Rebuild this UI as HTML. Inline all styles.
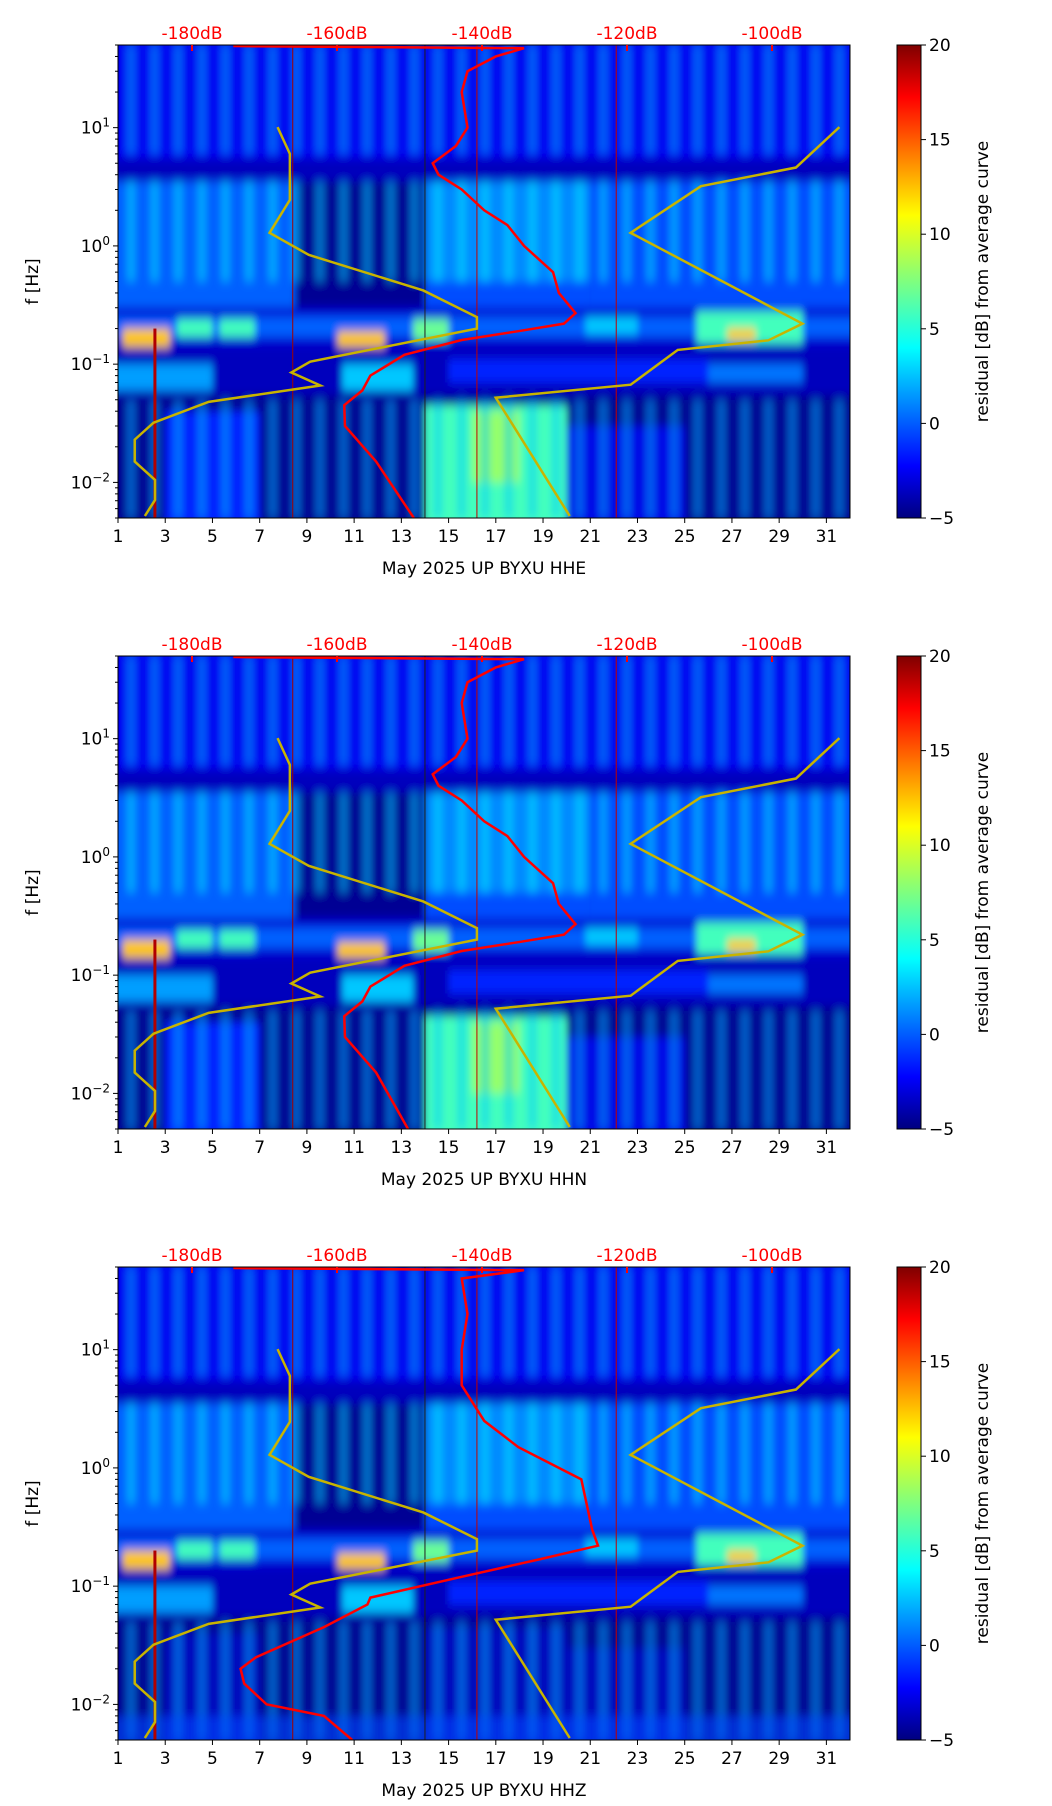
<!DOCTYPE html>
<html><head><meta charset="utf-8"><style>
html,body{margin:0;padding:0;background:#fff}
svg{display:block;font-family:"DejaVu Sans","Liberation Sans",sans-serif}
</style></head><body>
<svg id="fig" width="1052" height="1806" viewBox="0 0 1052 1806" xmlns="http://www.w3.org/2000/svg">
<defs>
<linearGradient id="jet" x1="0" y1="1" x2="0" y2="0">
<stop offset="0" stop-color="#00007f"/><stop offset="0.11" stop-color="#0000ff"/><stop offset="0.36" stop-color="#00ffff"/><stop offset="0.5" stop-color="#7fff7f"/><stop offset="0.64" stop-color="#ffff00"/><stop offset="0.89" stop-color="#ff0000"/><stop offset="1" stop-color="#7f0000"/>
</linearGradient>
<filter id="blur" x="0" y="0" width="1" height="1"><feGaussianBlur stdDeviation="3.5 5"/></filter>
</defs>
</svg>
<script>
// ---- data ----
const channels = ["HHE","HHN","HHZ"];
const dayTicks = [1,3,5,7,9,11,13,15,17,19,21,23,25,27,29,31];
const freqTicks = [10,1,0.1,0.01];
const freqTickLabels = ["1","0","\u22121","\u22122"];
const dbTicks = [-180,-160,-140,-120,-100];
const cbarTicks = [-5,0,5,10,15,20];
// red curve: [dB, freq] per channel
const redDB = [
 [-174.3,-134.2,-138.1,-142,-142.8,-142,-143.6,-146.8,-146,-142.8,-139.7,-136.5,-134.2,-130.2,-129.4,-127.1,-128.7,-135,-142.8,-150.7,-155.4,-156.5,-159,-158.9,-154.6,-149.4],
 [-174.3,-134.2,-138.1,-142,-142.8,-142,-143.6,-146.8,-146,-142.8,-139.7,-136.5,-134.2,-130.2,-129.4,-127.1,-128.7,-135,-142.8,-150.7,-155.4,-156.5,-159,-158.9,-154.6,-150.2],
 [-174.3,-134.2,-142.8,-142,-142.8,-142.8,-139.7,-135,-126.3,-124.8,-124,-131.8,-142.8,-155.4,-155.8,-161.8,-171.2,-173.3,-172.8,-169.7,-161.8,-157.9]
];
const redF1 = [49,47,40,30,20,10,7,5,4,3,2,1.5,1.0,0.6,0.4,0.27,0.22,0.19,0.16,0.12,0.08,0.06,0.045,0.03,0.015,0.005];
const redF3 = [49,47,40,20,10,5,2.5,1.5,0.8,0.3,0.22,0.17,0.12,0.08,0.07,0.045,0.025,0.02,0.015,0.01,0.008,0.005];
// noise model curves
const lowDB = [-168.2,-166.5,-166.5,-169.3,-163.9,-148.1,-140.7,-140.7,-163.7,-166.3,-162.3,-177.7,-185.3,-187.9,-187.9,-185.1,-185.1,-186.5];
const lowF = [10.1,6.0,2.45,1.29,0.84,0.42,0.25,0.2,0.105,0.085,0.066,0.048,0.032,0.023,0.015,0.0105,0.0071,0.0052];
const highDB = [-90.7,-96.7,-109.8,-119.5,-95.8,-100.5,-113,-119.5,-138.1,-127.9];
const highF = [10.1,4.6,3.2,1.29,0.22,0.159,0.132,0.067,0.052,0.0052];
// heatmap regions: [day0, day1, f0, f1, residual dB]
const regions = [
 [1,32,5,50,-2.2],[1,32,3.5,5.5,-3.5],
 [1,8.5,0.3,3.5,0.5],[8.5,14,0.3,3.5,-4.5],[14,21,0.5,3.5,1.5],[14,21,0.25,0.5,0],[21,32,0.3,3.5,0],
 [1,32,0.14,0.3,-3],[1,32,0.17,0.25,0.5],[1.2,3.2,0.11,0.2,12],[3.5,5,0.17,0.24,6],[5.3,6.8,0.17,0.24,6],
 [10.3,12.3,0.12,0.19,12],[13.5,15,0.16,0.24,7],[20.8,23,0.18,0.25,3],[25.5,30,0.15,0.28,6],[26.8,28,0.16,0.2,12],
 [1,32,0.055,0.14,-3.5],[1,5,0.06,0.1,2],[10.5,13.5,0.06,0.1,3],[26,30,0.07,0.1,1],[15,26,0.07,0.11,-1],
 [1,32,0.005,0.055,-4.5],[14,20,0.005,0.045,6],[16,18,0.01,0.04,8],[3,7,0.005,0.04,-1],[20,25,0.005,0.03,-2.5]
];
// daily stripes: band [f0, f1, value]
const stripeBands = [[6,50,3],[0.5,3.5,4],[0.005,0.05,3]];
const stripeDays = [1,2,3,4,5,6,7,8,9,10,11,12,13,14,15,16,17,18,19,20,21,22,23,24,25,26,27,28,29,30,31];
const vlineDays = [8.4,14,16.2,22.1];
const vlineColors = ["#a00000","#202020","#c00000","#c00000"];

// ---- layout ----
const NS="http://www.w3.org/2000/svg";
const svg=document.getElementById('fig');
const L=118,R=850,PH=473,CB0=897,CB1=921;
function jet(v){const t=Math.max(0,Math.min(1,(v+5)/25));const c=x=>Math.round(255*Math.max(0,Math.min(1,1.5-Math.abs(4*t-x))));return `rgb(${c(3)},${c(2)},${c(1)})`;}
function mk(tag,attrs,parent){const e=document.createElementNS(NS,tag);for(const k in attrs)e.setAttribute(k,attrs[k]);(parent||svg).appendChild(e);return e;}

channels.forEach((ch,pi)=>{
 const T=45+pi*611,B=T+PH;
 const xd=d=>L+(d-1)*(R-L)/31;
 const yf=f=>T+(Math.log10(50)-Math.log10(f))/4*PH;
 const xdb=db=>192+(db+180)*145/20;
 const g=mk('g',{});
 
 
 const cp=mk('clipPath',{id:'cp'+pi},g);mk('rect',{x:L,y:T,width:R-L,height:PH},cp);
 const hmc=mk('g',{'clip-path':`url(#cp${pi})`},g);
 const hm=mk('g',{filter:'url(#blur)'},hmc);
 
 
 mk('rect',{x:L-20,y:T-20,width:R-L+40,height:PH+40,fill:jet(-4)},hm);
 regions.forEach(r=>{
  let v=r[4];
  if(pi===2 && r[3]<=0.055 && r[2]<0.04) v=Math.min(v,-3.5);
  const d0=r[0]<=1?0:r[0], d1=r[1]>=32?33:r[1];
  const f1=r[3]>=50?80:r[3], f0=r[2]<=0.005?0.003:r[2];
  const e=mk('rect',{x:xd(d0),y:yf(f1),width:xd(d1)-xd(d0),height:yf(f0)-yf(f1),fill:jet(v)},hm);
  
  
 });
 stripeDays.forEach(d=>{stripeBands.forEach(b=>{
  const e=mk('rect',{x:xd(d+0.35),y:yf(b[1]),width:xd(1.4)-xd(1),height:yf(b[0])-yf(b[1]),fill:jet(b[2]),opacity:0.45},hm);
  
  
 });});
 if(pi===2){const e=mk('rect',{x:L-20,y:yf(0.008),width:R-L+40,height:yf(0.004)-yf(0.008),fill:jet(0),opacity:0.6},hm);}
 mk('rect',{x:xd(2.5),y:yf(0.2),width:3,height:B-yf(0.2),fill:'#b00000'},hmc);
 vlineDays.forEach((d,i)=>{const e=mk('line',{x1:xd(d),x2:xd(d),y1:T,y2:B,stroke:vlineColors[i],'stroke-width':1},hmc);});
 [[lowDB,lowF,'low-noise-model'],[highDB,highF,'high-noise-model']].forEach(([dbs,fs,n])=>{
  const p=mk('polyline',{points:dbs.map((d,i)=>xdb(d)+','+yf(fs[i])).join(' '),fill:'none',stroke:'#c8b400','stroke-width':2.5},hmc);
  
  
 });
 const rdb=redDB[pi], rf=pi===2?redF3:redF1;
 const rp=mk('polyline',{points:rdb.map((d,i)=>xdb(d)+','+yf(rf[i])).join(' '),fill:'none',stroke:'#ff0000','stroke-width':2.5},hmc);
 
 
 mk('rect',{x:L,y:T,width:R-L,height:PH,fill:'none',stroke:'#000','stroke-width':1},g);
 dayTicks.forEach(d=>{mk('line',{x1:xd(d),x2:xd(d),y1:B,y2:B+5,stroke:'#000'},g);
  const t=mk('text',{x:xd(d),y:B+24,'text-anchor':'middle','font-size':17},g);t.textContent=d;
  });
 const xl=mk('text',{x:484,y:B+56,'text-anchor':'middle','font-size':17},g);xl.textContent='May 2025 UP BYXU  '+ch;
 
 freqTicks.forEach((f,i)=>{mk('line',{x1:L-5,x2:L,y1:yf(f),y2:yf(f),stroke:'#000'},g);
  const t=mk('text',{x:L-8,y:yf(f)+6,'text-anchor':'end','font-size':17},g);
  t.textContent='10';const s=mk('tspan',{dy:-7,'font-size':12},t);s.textContent=freqTickLabels[i];
  });
 for(let e=-3;e<2;e++)for(let m=2;m<10;m++){const f=m*Math.pow(10,e);if(f>=0.005&&f<=50)mk('line',{x1:L-3,x2:L,y1:yf(f),y2:yf(f),stroke:'#000'},g);}
 const yl=mk('text',{x:0,y:0,transform:`translate(38,${T+PH/2}) rotate(-90)`,'text-anchor':'middle','font-size':17},g);yl.textContent='f [Hz]';
 
 dbTicks.forEach(d=>{mk('line',{x1:xdb(d),x2:xdb(d),y1:T,y2:T+6,stroke:'#ff0000','stroke-width':2},g);
  const t=mk('text',{x:xdb(d),y:T-6,'text-anchor':'middle','font-size':17,fill:'#ff0000'},g);t.textContent=d+'dB';
  });
 const cb=mk('rect',{x:CB0,y:T,width:CB1-CB0,height:PH,fill:'url(#jet)',stroke:'#000'},g);
 
 cbarTicks.forEach(v=>{const y=B-(v+5)/25*PH;mk('line',{x1:CB1,x2:CB1+5,y1:y,y2:y,stroke:'#000'},g);
  const t=mk('text',{x:CB1+8,y:y+6,'font-size':17},g);t.textContent=v<0?'\u2212'+(-v):v;
  });
 const cl=mk('text',{x:0,y:0,transform:`translate(988,${T+PH/2}) rotate(-90)`,'text-anchor':'middle','font-size':17},g);cl.textContent='residual [dB] from average curve';
 
});
</script>
</body></html>
